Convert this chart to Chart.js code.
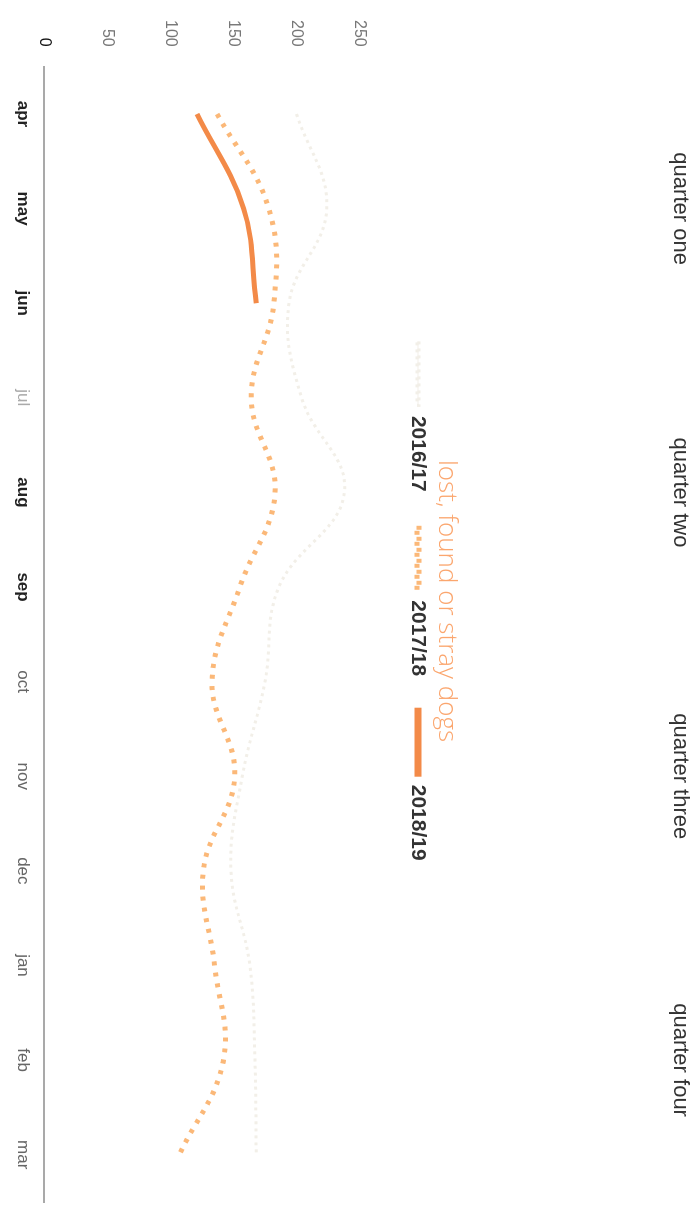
<!DOCTYPE html>
<html>
<head>
<meta charset="utf-8">
<script src="https://cdn.jsdelivr.net/npm/chart.js@4/dist/chart.umd.min.js"></script>
<style>
  html, body { margin: 0; padding: 0; background: #fff; overflow: hidden; }
  #wrap {
    position: absolute; left: 0; top: 0; width: 1208px; height: 696px;
    transform-origin: 0 0;
    transform: translate(696px, 0) rotate(90deg);
  }
</style>
</head>
<body>
<div id="wrap"><canvas id="dogs-chart" width="1208" height="696"></canvas></div>
<script>
// data
const months = ['apr', 'may', 'jun', 'jul', 'aug', 'sep', 'oct', 'nov', 'dec', 'jan', 'feb', 'mar'];
const quarters = ['quarter one', 'quarter two', 'quarter three', 'quarter four'];
const yTicks = [0, 50, 100, 150, 200, 250];
const dogs1617 = [200, 224, 194, 204, 238, 186, 175, 157, 148, 163, 167, 168];
const dogs1718 = [137, 178, 182, 164, 183, 155, 133, 151, 126, 135, 142, 107];
const dogs1819 = [121, 158, 168, null, null, null, null, null, null, null, null, null];

// label styling (the scan shows some month labels darker than others)
const monthColors = ['#222', '#222', '#222', '#aaa', '#222', '#222', '#666', '#666', '#666', '#666', '#666', '#666'];
const monthBold = [true, true, true, false, true, true, false, false, false, false, false, false];

Chart.defaults.font.family = "'Liberation Sans', Arial, sans-serif";

window.onload = function () {
    let context = document.querySelector('#dogs-chart').getContext('2d');
    new Chart(context, {
        type: 'line',
        data: {
            labels: months,
            datasets: [{
                label: '2016/17',
                data: dogs1617,
                borderColor: '#f2efe8',
                backgroundColor: 'rgba(245,242,236,0.6)',
                borderWidth: 3,
                borderDash: [3, 4],
                pointRadius: 0,
                tension: 0.4
            }, {
                label: '2017/18',
                data: dogs1718,
                borderColor: '#fbb878',
                backgroundColor: 'rgba(0,0,0,0)',
                borderWidth: 5,
                borderDash: [4, 7],
                pointRadius: 0,
                tension: 0.4
            }, {
                label: '2018/19',
                data: dogs1819,
                borderColor: '#f38a48',
                backgroundColor: 'rgba(0,0,0,0)',
                borderWidth: 5,
                pointRadius: 0,
                tension: 0.4
            }]
        },
        options: {
            responsive: false,
            animation: false,
            layout: { padding: { top: 3, left: 0, right: 6, bottom: 0 } },
            plugins: {
                title: {
                    display: true,
                    text: 'lost, found or stray dogs',
                    color: '#fba66e',
                    font: { family: "'Open Sans', sans-serif", size: 26, weight: 300 },
                    padding: { top: 205, bottom: -32 }
                },
                legend: {
                    position: 'top',
                    labels: {
                        boxWidth: 64,
                        boxHeight: 2,
                        padding: 34,
                        color: '#333',
                        font: { size: 21, weight: 'bold' }
                    }
                },
                tooltip: { enabled: false }
            },
            scales: {
                x: {
                    position: 'bottom',
                    offset: true,
                    grid: { display: false, drawTicks: false },
                    border: { display: true, color: '#a9a9a9', width: 2 },
                    ticks: {
                        padding: 12,
                        color: monthColors,
                        font: function (c) {
                            return { size: 17, weight: monthBold[c.index] ? 'bold' : 'normal' };
                        }
                    }
                },
                x2: {
                    type: 'category',
                    labels: quarters,
                    position: 'top',
                    offset: true,
                    weight: 3000,
                    grid: { display: false, drawTicks: false },
                    border: { display: false },
                    ticks: { padding: 0, color: '#333', font: { size: 22 } }
                },
                y: {
                    min: 0,
                    max: 280,
                    afterBuildTicks: function (scale) {
                        scale.ticks = yTicks.map(v => ({ value: v }));
                    },
                    grid: { display: false, drawTicks: false },
                    border: { display: false },
                    ticks: {
                        padding: 20,
                        color: ['#111', '#777', '#777', '#777', '#777', '#777'],
                        font: { size: 16 }
                    }
                }
            }
        }
    });
}
</script>
</body>
</html>
